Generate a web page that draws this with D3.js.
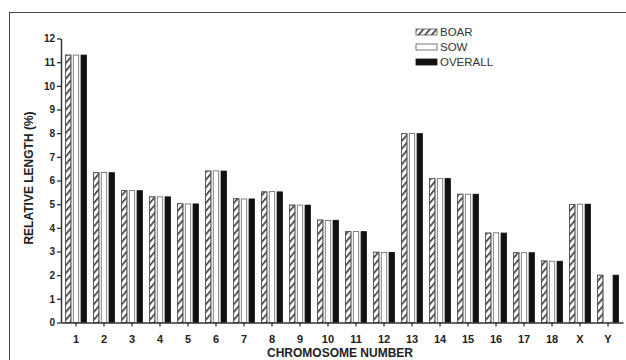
<!DOCTYPE html>
<html>
<head>
<meta charset="utf-8">
<script src="https://cdn.jsdelivr.net/npm/d3@7"></script>
<style>
  body { margin: 0; background: #fff; }
  text { font-family: "Liberation Sans", Arial, sans-serif; }
</style>
</head>
<body>
<div id="chart"></div>
<script>
// chromosome lengths as % of genome
const chromosomes = ["1","2","3","4","5","6","7","8","9","10","11","12","13","14","15","16","17","18","X","Y"];
const boar    = [11.3, 6.33, 5.58, 5.31, 5.02, 6.4, 5.23, 5.52, 4.96, 4.33, 3.84, 2.97, 7.98, 6.08, 5.42, 3.78, 2.95, 2.6, 4.99, 2.0];
const sow     = [11.3, 6.34, 5.57, 5.31, 5.01, 6.41, 5.22, 5.53, 4.96, 4.31, 3.84, 2.96, 7.99, 6.09, 5.42, 3.79, 2.95, 2.59, 5.0, 0];
const overall = [11.3, 6.33, 5.57, 5.31, 5.01, 6.4, 5.22, 5.52, 4.96, 4.32, 3.84, 2.96, 7.98, 6.08, 5.42, 3.78, 2.95, 2.59, 5.0, 2.0];
const seriesNames = ["BOAR", "SOW", "OVERALL"];
const yTicks = [0,1,2,3,4,5,6,7,8,9,10,11,12];

const width = 626, height = 360;
const svg = d3.select("#chart").append("svg")
  .attr("width", width)
  .attr("height", height);

// hatch for the boar bars
const defs = svg.append("defs");
defs.append("pattern")
  .attr("id", "hatch")
  .attr("patternUnits", "userSpaceOnUse")
  .attr("width", 5).attr("height", 5)
  .attr("patternTransform", "rotate(40)")
  .append("rect")
  .attr("x", 0).attr("y", 0)
  .attr("width", 1.6).attr("height", 5)
  .attr("fill", "#333");

// outer frame of the figure
svg.append("rect")
  .attr("x", 9.5).attr("y", 12.5)
  .attr("width", width).attr("height", height)
  .attr("fill", "none")
  .attr("stroke", "#444");

const data = chromosomes.map((c, i) => ({ chr: c, BOAR: boar[i], SOW: sow[i], OVERALL: overall[i] }));

const x0 = d3.scaleBand()
  .domain(chromosomes)
  .range([61, 623])
  .paddingInner(0.25)
  .paddingOuter(0.16);

const x1 = d3.scaleBand()
  .domain(seriesNames)
  .range([0, x0.bandwidth()])
  .paddingInner(0.3);

const y = d3.scaleLinear()
  .domain([0, 12])
  .range([322.5, 38.5]);

const fills = { BOAR: "url(#hatch)", SOW: "#fff", OVERALL: "#111" };

// bars
const groups = svg.append("g")
  .selectAll("g")
  .data(data)
  .join("g")
  .attr("transform", d => `translate(${x0(d.chr)},0)`);

groups.selectAll("rect")
  .data(d => seriesNames.map(k => ({ key: k, value: d[k] })).filter(e => e.value > 0))
  .join("rect")
  .attr("x", d => x1(d.key))
  .attr("y", d => y(d.value))
  .attr("width", x1.bandwidth())
  .attr("height", d => y(0) - y(d.value))
  .attr("fill", d => d.key == "BOAR" ? "#fff" : fills[d.key])
  .attr("stroke", d => d.key == "OVERALL" ? "#111" : "#666")
  .attr("stroke-width", 0.8);

// hatch on top of white for boar
groups.selectAll("rect.h")
  .data(d => [{ key: "BOAR", value: d.BOAR }].filter(e => e.value > 0))
  .join("rect")
  .attr("class", "h")
  .attr("x", d => x1(d.key))
  .attr("y", d => y(d.value))
  .attr("width", x1.bandwidth())
  .attr("height", d => y(0) - y(d.value))
  .attr("fill", "url(#hatch)")
  .attr("stroke", "#555")
  .attr("stroke-width", 0.8);

// y axis
const yAxis = svg.append("g")
  .attr("transform", "translate(61,0)")
  .call(d3.axisLeft(y).tickValues(yTicks).tickSize(4).tickSizeOuter(0).tickPadding(2));
yAxis.select(".domain").attr("stroke", "#333").attr("stroke-width", 1.5);
yAxis.selectAll(".tick line").attr("stroke", "#333").attr("stroke-width", 1.3);
yAxis.selectAll("text")
  .attr("fill", "#222")
  .style("font-size", "10px")
  .style("font-weight", "bold");

// x axis
const xAxis = svg.append("g")
  .attr("transform", `translate(0,${y(0)})`)
  .call(d3.axisBottom(x0).tickSize(4).tickSizeOuter(0).tickPadding(9));
xAxis.select(".domain").attr("stroke", "#333").attr("stroke-width", 1.5);
xAxis.selectAll(".tick line").attr("stroke", "#333").attr("stroke-width", 1.3);
xAxis.selectAll("text")
  .attr("fill", "#222")
  .style("font-size", "11px")
  .style("font-weight", "bold");

// axis titles
svg.append("text")
  .attr("transform", "translate(33,178) rotate(-90)")
  .attr("text-anchor", "middle")
  .attr("fill", "#222")
  .style("font-size", "12px")
  .style("font-weight", "bold")
  .text("RELATIVE LENGTH (%)");

svg.append("text")
  .attr("x", 340).attr("y", 357)
  .attr("text-anchor", "middle")
  .attr("fill", "#222")
  .style("font-size", "12px")
  .style("font-weight", "bold")
  .text("CHROMOSOME NUMBER");

// legend
const legend = svg.append("g")
  .selectAll("g")
  .data(seriesNames)
  .join("g")
  .attr("transform", (d, i) => `translate(416,${29 + i * 15})`);

legend.append("rect")
  .attr("width", 21).attr("height", 6)
  .attr("fill", d => d == "BOAR" ? "url(#hatch)" : fills[d])
  .attr("stroke", d => d == "OVERALL" ? "#111" : "#555")
  .attr("stroke-width", 0.8);

legend.append("text")
  .attr("x", 24).attr("y", 7)
  .attr("fill", "#333")
  .style("font-size", "11.5px")
  .text(d => d);
</script>
</body>
</html>
